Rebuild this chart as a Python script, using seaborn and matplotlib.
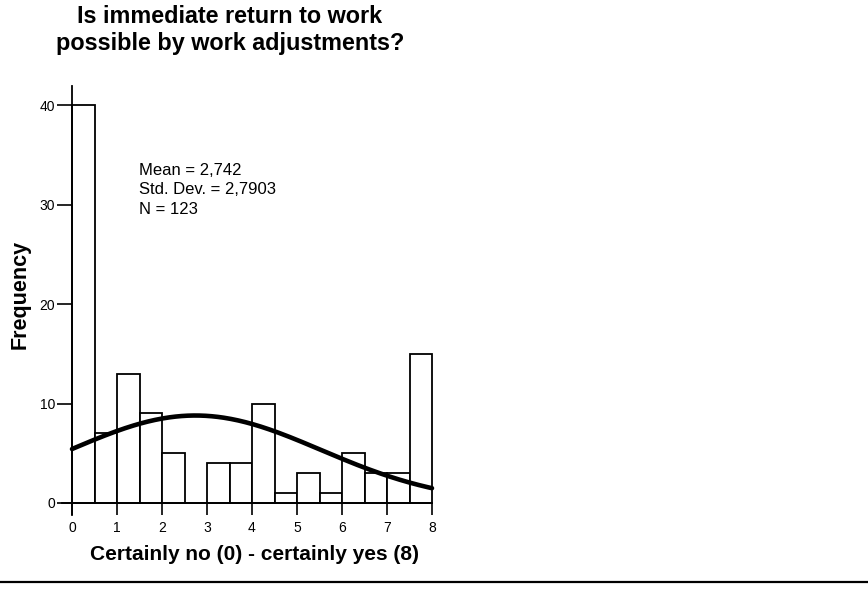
import numpy as np
import pandas as pd
import matplotlib
matplotlib.use("Agg")
import matplotlib.pyplot as plt
import seaborn as sns
from matplotlib.lines import Line2D

# Frequencies for each half-point bin on the 0-8 scale
bin_edges = [0, 0.5, 1, 1.5, 2, 2.5, 3, 3.5, 4, 4.5, 5, 5.5, 6, 6.5, 7, 7.5, 8]
counts = [40, 7, 13, 9, 5, 0, 4, 4, 10, 1, 3, 1, 5, 3, 3, 15]
mean_val = 2.742
std_val = 2.7903
n_total = 123
x_ticks = [0, 1, 2, 3, 4, 5, 6, 7, 8]
y_ticks = [0, 10, 20, 30, 40]

sns.set_theme(style="white")
plt.rcParams["font.family"] = ["Liberation Sans", "DejaVu Sans"]
plt.rcParams["text.color"] = "black"
plt.rcParams["axes.labelcolor"] = "black"
plt.rcParams["xtick.color"] = "black"
plt.rcParams["ytick.color"] = "black"

W, H = 868, 600
fig = plt.figure(figsize=(W / 100, H / 100), dpi=100)

# axes placed so that x 0..8 spans px 72..432 and y 0..40 spans px 503..105
x_lo, x_hi = -0.6, 8.4
y_lo, y_hi = -2.0, 43.0
px_per_x = 45.0
px_per_y = 9.95
left_px = 72 - (0 - x_lo) * px_per_x
width_px = (x_hi - x_lo) * px_per_x
bottom_px = (H - 503) - (0 - y_lo) * px_per_y
height_px = (y_hi - y_lo) * px_per_y
ax = fig.add_axes([left_px / W, bottom_px / H, width_px / W, height_px / H])

centers = [(a + b) / 2 for a, b in zip(bin_edges[:-1], bin_edges[1:])]
df = pd.DataFrame({"score": centers, "freq": counts})
sns.histplot(data=df, x="score", weights="freq", bins=bin_edges, ax=ax,
             color="white", edgecolor="black", linewidth=1.3, alpha=1.0)

# fitted normal curve scaled to counts per bin
xs = np.linspace(0, 8, 300)
bw = 0.5
ys = n_total * bw * np.exp(-0.5 * ((xs - mean_val) / std_val) ** 2) / (std_val * np.sqrt(2 * np.pi))
sns.lineplot(x=xs, y=ys, ax=ax, color="black", linewidth=3.3)

ax.set_xlim(x_lo, x_hi)
ax.set_ylim(y_lo, y_hi)
ax.set_xticks(x_ticks)
ax.set_yticks(y_ticks)
ax.spines["right"].set_visible(False)
ax.spines["top"].set_visible(False)
ax.spines["left"].set_position(("data", 0))
ax.spines["bottom"].set_position(("data", 0))
ax.spines["left"].set_bounds(-1.2, 41.9)
ax.spines["bottom"].set_bounds(-0.22, 8)
for s in ("left", "bottom"):
    ax.spines[s].set_color("black")
    ax.spines[s].set_linewidth(1.3)
ax.tick_params(axis="y", direction="out", length=10.5, width=1.2,
               labelsize=10, pad=1.5, left=True)
ax.tick_params(axis="x", direction="out", length=8.5, width=1.2,
               labelsize=10, pad=4.5, bottom=True)
ax.set_xlabel("")
ax.set_ylabel("")
ax.grid(False)
ax.patch.set_alpha(0)

ax.text(1.49, 31.46, f"Mean = 2,742\nStd. Dev. = 2,7903\nN = {n_total}",
        fontsize=12, va="center", ha="left", color="black", linespacing=1.35)

fig.text(230 / W, 1 - 30 / H, "Is immediate return to work\npossible by work adjustments?",
         ha="center", va="center", fontsize=16.8, fontweight="bold", linespacing=1.2)
fig.text(254 / W, 1 - 554 / H, "Certainly no (0) - certainly yes (8)",
         ha="center", va="center", fontsize=15, fontweight="bold")
fig.text(20 / W, 1 - 294 / H, "Frequency", ha="center", va="center",
         rotation=90, fontsize=15.5, fontweight="bold")

fig.add_artist(Line2D([0, 1], [1 - 582 / H, 1 - 582 / H], transform=fig.transFigure,
                      color="black", linewidth=1.6))

fig.savefig("out.png", dpi=100)
